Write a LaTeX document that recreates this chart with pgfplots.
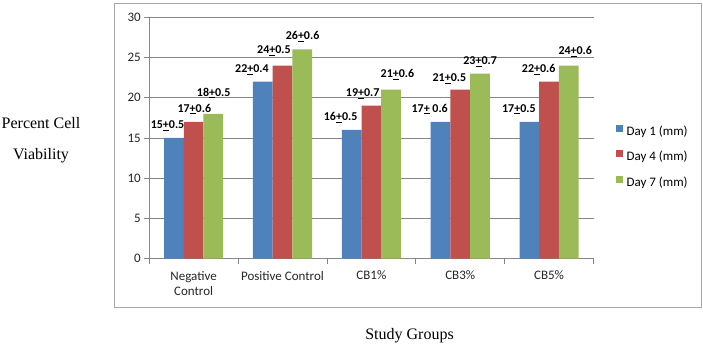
\documentclass[border=0pt]{standalone}
\usepackage{pgfplots}
\pgfplotsset{compat=1.18}
\usepackage{fontspec}
\setmainfont{Carlito}
\newfontfamily\serifgroup{Liberation Serif}

\definecolor{dayone}{HTML}{4F81BD}
\definecolor{dayfour}{HTML}{C0504D}
\definecolor{dayseven}{HTML}{9BBB59}
\definecolor{gridgray}{HTML}{868686}
\definecolor{framegray}{HTML}{A6A6A6}
% plus sign with a bar below it, as typed in the labels
\newcommand{\pmu}{\underline{+}}

\begin{document}
\begin{tikzpicture}[x=1bp,y=1bp]
\useasboundingbox (0,0) rectangle (703,347);
\begin{axis}[
  at={(149.2bp,88.5bp)}, anchor=south west,
  scale only axis, width=444.3bp, height=241.2bp,
  ybar=0pt, bar width=19.7bp,
  every axis plot post/.append style={
    legend image code/.code={\fill[##1, draw=none] (0bp,0.5bp) rectangle (7bp,7.5bp);}},
  xmin=-0.5, xmax=4.5, ymin=0, ymax=30,
  xtick={0,...,4},
  xticklabels={{Negative\\Control},Positive Control,CB1\%,CB3\%,CB5\%},
  minor xtick={-0.5,0.5,...,4.5},
  ytick={0,5,...,30},
  ymajorgrids,
  grid style={gridgray, line width=0.8bp},
  axis x line*=bottom, axis y line*=left,
  axis line style={gridgray, line width=0.8bp},
  tick align=outside,
  major tick length=5bp, minor tick length=5bp,
  tick style={gridgray, line width=0.8bp},
  major x tick style={draw=none},
  /pgf/number format/assume math mode=true,
  tick label style={font=\fontsize{13bp}{15.7bp}\selectfont, text=black!85},
  xticklabel style={align=center, yshift=-4bp},
  every axis y label/.style={at={(axis description cs:-0.2435,0.491)}, anchor=center,
    align=center, font=\serifgroup\fontsize{16bp}{31bp}\selectfont},
  ylabel={Percent Cell\\Viability},
  every axis x label/.style={at={(axis description cs:0.586,-0.319)}, anchor=center,
    font=\serifgroup\fontsize{16bp}{19bp}\selectfont},
  xlabel={Study Groups},
  legend style={at={(axis description cs:1.0505,0.421)}, anchor=west, draw=none, fill=none,
    inner sep=0pt, row sep=12bp, column sep=3.5bp, font=\fontsize{13bp}{15bp}\selectfont,
    nodes={inner sep=0pt, text height=9bp, text depth=3bp}},
  legend cell align=left,
  nodes near coords,
  point meta=explicit symbolic,
  visualization depends on={value \thisrow{dx}\as\dx},
  visualization depends on={value \thisrow{dy}\as\dy},
  every node near coord/.append style={font=\bfseries\fontsize{12bp}{14bp}\selectfont,
    text=black, anchor=base, inner sep=0pt, xshift=\dx bp, yshift=\dy bp},
]
\addplot[fill=dayone, draw=none] table[x=x, y=y, meta=lab] {
x y   dx    dy   lab
0 15  -6.4  9.4  {15\pmu0.5}
1 22  -10.8 8.9  {22\pmu0.4}
2 16  -11.0 9.1  {16\pmu0.5}
3 17  -10.8 9.6  {17\pmu\ 0.6}
4 17  -10.5 9.6  {17\pmu0.5}
};
\addplot[fill=dayfour, draw=none] table[x=x, y=y, meta=lab] {
x y   dx    dy   lab
0 17  0.7   9.6  {17\pmu0.6}
1 24  -8.5  11.8 {24\pmu0.5}
2 19  -8.6  9.4  {19\pmu0.7}
3 21  -10.8 7.7  {21\pmu0.5}
4 22  -10.4 9.3  {22\pmu0.6}
};
\addplot[fill=dayseven, draw=none] table[x=x, y=y, meta=lab] {
x y   dx    dy   lab
0 18  0.4   17.5 {18\pmu0.5}
1 26  0.4   9.7  {26\pmu0.6}
2 21  6.4   12.0 {21\pmu0.6}
3 23  0.2   9.2  {23\pmu0.7}
4 24  6.5   10.8 {24\pmu0.6}
};
\legend{Day 1 (mm), Day 4 (mm), Day 7 (mm)}
\end{axis}
\draw[framegray, line width=1bp] (114.5,40) rectangle (701.7,343.7);
\end{tikzpicture}
\end{document}
